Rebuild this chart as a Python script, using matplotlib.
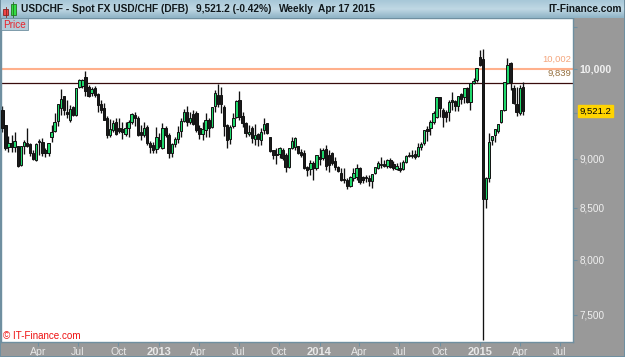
import numpy as np
import pandas as pd
import matplotlib
matplotlib.use('Agg')
import matplotlib.pyplot as plt
from matplotlib.colors import LinearSegmentedColormap
from matplotlib.patches import Rectangle

# ---- Weekly USD/CHF candles ----
opens = [9532, 9367, 9130, 9173, 9130, 9141, 8939, 9141, 9173, 9162,
         9066, 8990, 9194, 9183, 9098, 9066, 9237, 9302, 9411, 9554,
         9689, 9510, 9422, 9565, 9477, 9791, 9803, 9907, 9791, 9723,
         9780, 9712, 9599, 9554, 9444, 9258, 9313, 9400, 9334, 9323,
         9269, 9334, 9400, 9477, 9444, 9291, 9258, 9345, 9173, 9151,
         9109, 9205, 9119, 9334, 9258, 9066, 9162, 9215, 9302, 9411,
         9510, 9400, 9488, 9499, 9334, 9269, 9313, 9422, 9345, 9577,
         9700, 9700, 9565, 9367, 9215, 9356, 9455, 9644, 9466, 9389,
         9269, 9334, 9215, 9269, 9205, 9313, 9389, 9237, 9098, 9056,
         9056, 9098, 9045, 8918, 9119, 9130, 9141, 9077, 9066, 8918,
         8898, 8960, 8908, 9024, 9014, 9109, 9045, 9066, 8980, 8918,
         8857, 8796, 8786, 8716, 8806, 8816, 8908, 8816, 8816, 8806,
         8766, 8857, 8908, 8949, 8949, 8929, 8990, 8949, 8898, 8908,
         8898, 8970, 9045, 9045, 9056, 9035, 9130, 9173, 9323, 9334,
         9400, 9455, 9678, 9532, 9510, 9510, 9644, 9633, 9577, 9712,
         9678, 9780, 9621, 9837, 9872, 10142, 10118, 8587, 8806, 9205,
         9258, 9302, 9400, 9532, 9837, 10071, 9780, 9599, 9499, 9791]
highs = [9577, 9367, 9248, 9258, 9291, 9141, 9141, 9205, 9334, 9173,
         9098, 9173, 9215, 9226, 9119, 9173, 9367, 9499, 9599, 9768,
         9689, 9644, 9588, 9577, 9780, 9884, 9884, 9977, 9814, 9791,
         9803, 9723, 9644, 9610, 9466, 9433, 9422, 9444, 9444, 9400,
         9400, 9422, 9499, 9510, 9466, 9367, 9400, 9367, 9194, 9183,
         9345, 9280, 9389, 9356, 9280, 9173, 9237, 9356, 9444, 9543,
         9577, 9510, 9532, 9521, 9367, 9400, 9499, 9444, 9565, 9757,
         9826, 9791, 9588, 9378, 9367, 9499, 9644, 9746, 9510, 9400,
         9367, 9356, 9378, 9280, 9334, 9444, 9389, 9237, 9098, 9119,
         9130, 9119, 9066, 9119, 9237, 9237, 9141, 9109, 9098, 8929,
         8990, 8980, 9045, 9119, 9119, 9151, 9098, 9077, 9024, 8929,
         8908, 8908, 8806, 8827, 8908, 8949, 8918, 8827, 8837, 8837,
         8847, 8918, 8980, 9024, 8990, 9000, 9014, 8980, 8960, 8970,
         8990, 9045, 9077, 9098, 9098, 9173, 9183, 9313, 9356, 9422,
         9521, 9678, 9678, 9554, 9532, 9644, 9734, 9644, 9689, 9723,
         9780, 9791, 9837, 9895, 10012, 10225, 10237, 8816, 9280, 9248,
         9323, 9378, 9532, 9849, 10130, 10082, 9814, 9791, 9814, 9849]
lows = [9291, 9098, 9077, 9077, 9077, 8918, 8929, 9056, 9130, 9035,
        8990, 8980, 9045, 9035, 9024, 9035, 9183, 9291, 9356, 9477,
        9477, 9444, 9400, 9466, 9466, 9780, 9780, 9689, 9678, 9689,
        9678, 9510, 9499, 9422, 9226, 9237, 9291, 9258, 9280, 9215,
        9248, 9237, 9378, 9356, 9248, 9205, 9237, 9151, 9066, 9066,
        9066, 9119, 9109, 9237, 9014, 9024, 9130, 9173, 9237, 9400,
        9356, 9378, 9367, 9291, 9215, 9205, 9237, 9237, 9334, 9510,
        9565, 9499, 9248, 9119, 9162, 9334, 9444, 9422, 9345, 9237,
        9248, 9173, 9151, 9141, 9151, 9269, 9269, 9077, 9000, 8949,
        9014, 8990, 8867, 8908, 9109, 9098, 9056, 9024, 8898, 8827,
        8837, 8786, 8888, 8939, 8990, 8888, 8867, 8939, 8888, 8867,
        8766, 8746, 8686, 8706, 8766, 8786, 8736, 8746, 8756, 8716,
        8696, 8847, 8898, 8908, 8918, 8908, 8908, 8888, 8888, 8867,
        8888, 8960, 9024, 9014, 9000, 9024, 9098, 9151, 9194, 9258,
        9378, 9444, 9455, 9345, 9400, 9411, 9532, 9521, 9521, 9599,
        9610, 9610, 9532, 9826, 9849, 10035, 7285, 8500, 8756, 9151,
        9183, 9280, 9389, 9521, 9826, 9757, 9599, 9466, 9477, 9477]
closes = [9334, 9119, 9173, 9130, 9194, 8929, 9141, 9183, 9141, 9066,
          9000, 9162, 9183, 9066, 9066, 9173, 9291, 9400, 9599, 9655,
          9532, 9488, 9543, 9477, 9780, 9872, 9872, 9746, 9689, 9768,
          9700, 9588, 9532, 9422, 9258, 9323, 9389, 9269, 9302, 9291,
          9334, 9400, 9488, 9444, 9258, 9258, 9334, 9173, 9130, 9098,
          9237, 9141, 9334, 9258, 9066, 9162, 9215, 9291, 9411, 9510,
          9400, 9444, 9378, 9313, 9269, 9323, 9422, 9334, 9565, 9723,
          9599, 9599, 9356, 9205, 9345, 9444, 9633, 9455, 9389, 9280,
          9291, 9226, 9258, 9215, 9291, 9378, 9280, 9088, 9045, 9045,
          9119, 9014, 8918, 9119, 9194, 9226, 9066, 9045, 8908, 8888,
          8960, 8908, 9045, 9000, 9098, 8929, 8939, 8960, 8918, 8877,
          8786, 8776, 8716, 8816, 8857, 8908, 8756, 8786, 8806, 8766,
          8847, 8918, 8960, 8939, 8929, 8990, 8918, 8908, 8929, 8888,
          8970, 9035, 9035, 9035, 9024, 9130, 9162, 9313, 9302, 9400,
          9499, 9678, 9554, 9455, 9455, 9621, 9621, 9577, 9689, 9655,
          9780, 9621, 9837, 9860, 10012, 10047, 8587, 8806, 9183, 9248,
          9323, 9378, 9532, 9849, 10047, 9849, 9610, 9510, 9780, 9521.2]

support = 9839
resistance = 10002

tick_dates = ['2012-04-10', '2012-07-10', '2012-10-10', '2013-01-10', '2013-04-10',
              '2013-07-10', '2013-10-10', '2014-01-10', '2014-04-10', '2014-07-10',
              '2014-10-10', '2015-01-10', '2015-04-10', '2015-07-10']
tick_labels = ['Apr', 'Jul', 'Oct', '2013', 'Apr', 'Jul', 'Oct', '2014', 'Apr', 'Jul',
               'Oct', '2015', 'Apr', 'Jul']
price_ticks = [10500, 10000, 9500, 9000, 8500, 8000, 7500]
price_labels = ['', '10,000', '', '9,000', '8,500', '8,000', '7,500']

W, H = 625, 357
STEEL = '#6f8fa0'
PANEL = '#999999'
FONT = 'Liberation Sans'
HEADER_SIZE = 7.3

dates = pd.date_range(end='2015-04-17', periods=len(closes), freq='W-FRI')
o, h, l, c = [np.array(a, dtype=float) for a in (opens, highs, lows, closes)]
up = c >= o

fig = plt.figure(figsize=(W / 100, H / 100), dpi=100, facecolor=PANEL)
ax = fig.add_axes([1 / W, 1 - 341.5 / H, 572 / W, 323.5 / H])

# ---- Price lines sit behind the candles ----
ax.axhline(resistance, color='#ffb08c', lw=1.5, zorder=1)
ax.axhline(support, color='#3a0c0c', lw=0.9, zorder=1)

# ---- Candles ----
ax.vlines(dates, l, h, color='#111111', lw=0.95, zorder=2)
ax.bar(dates, c - o, bottom=o, width=5.4, color=np.where(up, '#1fd96c', '#1a1a1a'),
       edgecolor='#111111', linewidth=0.7, zorder=3)

ax.set_yscale('log')
ax.set_ylim(7268, 10615)
ax.set_xlim(pd.Timestamp('2012-01-17'), pd.Timestamp('2015-08-09'))

ax.minorticks_off()
ax.yaxis.tick_right()
ax.set_yticks(price_ticks)
ax.set_yticklabels(price_labels, fontname=FONT, fontsize=7.2, color='#f0f0f0')
ax.tick_params(axis='y', which='both', length=3, width=0.8, color=STEEL, pad=1.5)
ax.set_xticks(pd.to_datetime(tick_dates))
ax.set_xticklabels(tick_labels, fontname=FONT, fontsize=7.6, color='#e8e8e8')
ax.tick_params(axis='x', length=3, width=0.8, color=STEEL, pad=1)
ax.minorticks_off()

for lab in ax.get_xticklabels():
    if lab.get_text().isdigit():
        lab.set_fontweight('bold')
        lab.set_fontsize(8)
for lab in ax.get_yticklabels():
    if lab.get_text() == '10,000':
        lab.set_fontweight('bold')
        lab.set_fontsize(7.6)

for side in ax.spines:
    ax.spines[side].set_color(STEEL)
    ax.spines[side].set_linewidth(1)

# ---- Price line and last price tags ----
trans = ax.get_yaxis_transform()
ax.text(0.997, resistance * 1.006, f'{resistance:,}', transform=trans, ha='right', va='bottom',
        fontname=FONT, fontsize=6.8, color='#f4a57c')
ax.text(0.997, support * 1.0055, f'{support:,}', transform=trans, ha='right', va='bottom',
        fontname=FONT, fontsize=6.8, color='#94703f')
ax.text(1.0395, c[-1], f'{c[-1]:,.1f}', transform=trans, ha='center', va='center',
        fontname=FONT, fontsize=6.8, color='black',
        bbox=dict(boxstyle='square,pad=0.18', fc='#ffd400', ec='#ffd400'), clip_on=False)

# ---- Window chrome, drawn in pixel coordinates ----
chrome = fig.add_axes([0, 0, 1, 1], facecolor='none', zorder=5)
header_cmap = LinearSegmentedColormap.from_list('header', ['#a8c8d8', '#c0d8e4', '#90b4c6'])
chrome.imshow(np.linspace(0, 1, 18).reshape(-1, 1), cmap=header_cmap, aspect='auto',
              extent=(0, W, 18, 0))
chrome.set_xlim(0, W)
chrome.set_ylim(H, 0)
chrome.axis('off')

chrome.add_patch(Rectangle((3, 9), 5, 6, fc='#ee4444', ec='#882222', lw=0.6))
chrome.plot([5.5, 5.5], [7, 17], color='#882222', lw=0.6)
chrome.add_patch(Rectangle((10.5, 4), 5, 11, fc='#33dd44', ec='#227722', lw=0.6))
chrome.plot([13, 13], [2, 17], color='#227722', lw=0.6)

for x, label in [(21, 'USDCHF - Spot FX USD/CHF (DFB)'), (196, '9,521.2 (-0.42%)'),
                 (279, 'Weekly'), (318, 'Apr 17 2015')]:
    chrome.text(x, 9.5, label, fontname=FONT, fontweight='bold', fontsize=HEADER_SIZE,
                color='#10181c', va='center')
chrome.text(622, 9.5, 'IT-Finance.com', fontname=FONT, fontweight='bold',
            fontsize=HEADER_SIZE, color='#10181c', va='center', ha='right')

chrome.add_patch(Rectangle((1, 18), 26.5, 12, fc='#b4ccd8', ec=STEEL, lw=0.6))
chrome.text(3, 24.5, 'Price', fontname=FONT, fontsize=7.2, color='#e8242c', va='center')
chrome.text(3, 336, '\u00a9 IT-Finance.com', fontname=FONT, fontsize=7.1, color='#ee1111',
            va='center')

chrome.add_patch(Rectangle((0, 0), 1, H, fc=STEEL, ec='none'))
chrome.add_patch(Rectangle((0, H - 1), W, 1, fc=STEEL, ec='none'))
chrome.add_patch(Rectangle((W - 1, 0), 1, H, fc=STEEL, ec='none'))

fig.savefig('out.png', dpi=100)
